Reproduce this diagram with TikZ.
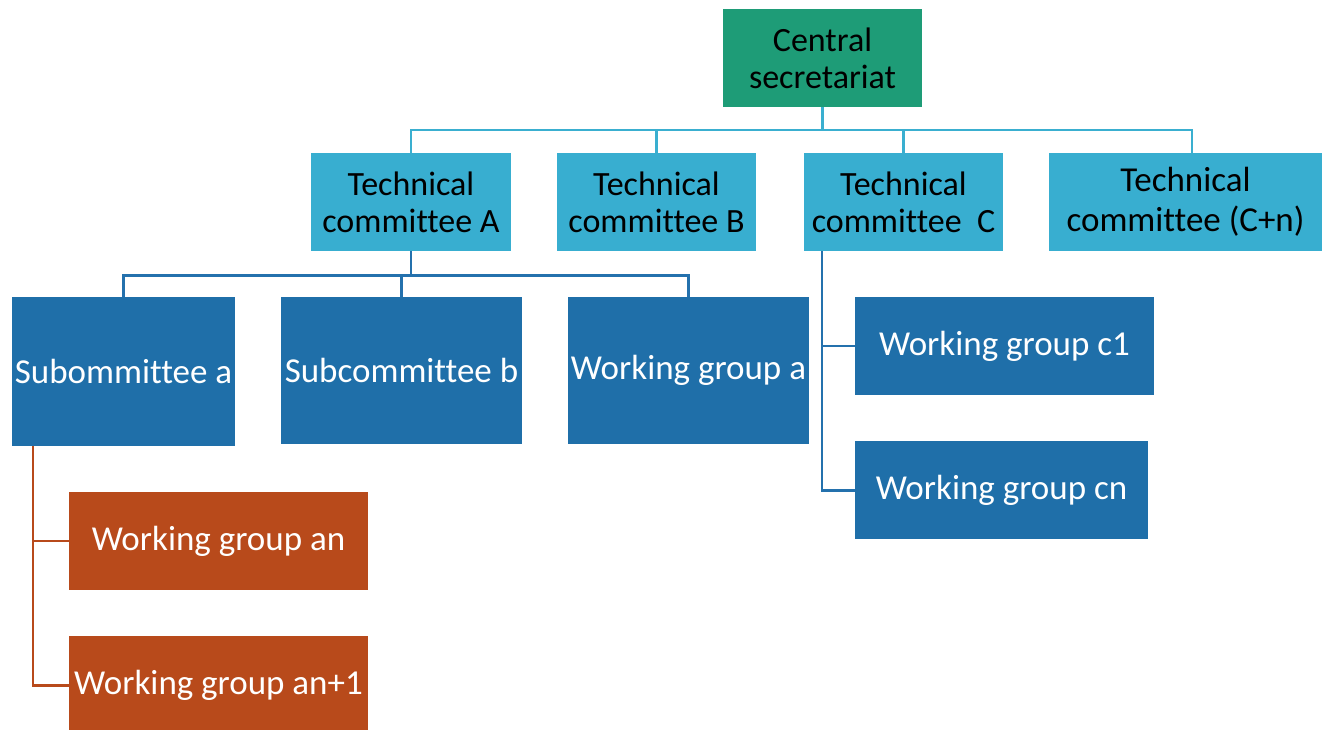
\documentclass[tikz,border=0pt]{standalone}
\usepackage{fontspec}
\setmainfont{Carlito}[Ligatures=NoCommon, Contextuals=NoAlternate]
\usetikzlibrary{positioning}
\definecolor{secgreen}{HTML}{1E9C77}
\definecolor{tcblue}{HTML}{38AED0}
\definecolor{subblue}{HTML}{1F6FA9}
\definecolor{wgorange}{HTML}{B84A1B}
\definecolor{tcline}{HTML}{3AAFD0}
\definecolor{subline}{HTML}{2471AD}

\tikzset{
  orgbox/.style={rectangle, inner sep=0pt, align=center, minimum height=98pt},
  topbox/.style={orgbox, fill=tcblue, text=black, font=\fontsize{34}{37}\selectfont},
  lowbox/.style={orgbox, fill=subblue, text=white, font=\fontsize{35}{40}\selectfont},
  link/.style={line width=2.6pt}
}

\begin{document}
\begin{tikzpicture}[x=1pt, y=-1pt]
    \useasboundingbox (0,0) rectangle (1322,730);

    % Central secretariat
    \node[topbox, fill=secgreen, minimum width=199pt] (central) at (822.5,58) {Central\\secretariat};

    % Technical committees
    \node[topbox, minimum width=200pt] (tcA) at (411,202) {Technical\\committee A};
    \node[topbox, minimum width=199pt] (tcB) at (656.5,202) {Technical\\committee B};
    \node[topbox, minimum width=199pt] (tcC) at (903.5,202) {Technical\\committee ~C};
    \node[topbox, minimum width=273pt, font=\fontsize{35}{40}\selectfont] (tcN) at (1185.5,202) {Technical\\committee (C+n)};

    % Subcommittees under A
    \node[lowbox, minimum width=223pt, minimum height=149pt] (subA) at (123.5,371.5) {Subommittee a};
    \node[lowbox, minimum width=241pt, minimum height=147pt] (subB) at (401.5,370.5) {Subcommittee b};
    \node[lowbox, minimum width=241pt, minimum height=147pt] (wgA) at (688.5,370.5) {Working group a};

    % Working groups under C
    \node[lowbox, minimum width=299pt] (wgC1) at (1004.5,346) {Working group c1};
    \node[lowbox, minimum width=293pt, below=46pt of wgC1.south west, anchor=north west] (wgCn) {Working group cn};

    % Working groups under subcommittee a
    \node[lowbox, fill=wgorange, minimum width=299pt] (wgAn) at (218.5,541) {Working group an};
    \node[lowbox, fill=wgorange, minimum width=299pt, below=46pt of wgAn] (wgAn1) {Working group an+1};

    % Connectors, top level
    \draw[link, tcline] (central.south) -- ++(0,23) coordinate (tcbus);
    \foreach \n in {tcA,tcB,tcC}
        \draw[link, tcline] (tcbus) -| (\n.north);
    \draw[link, tcline] (tcbus) -| ([xshift=6.5pt]tcN.north);

    % Connectors, committee A
    \draw[link, subline] (tcA.south) -- ++(0,24) coordinate (subbus);
    \foreach \n in {subA,subB,wgA}
        \draw[link, subline] (subbus) -| (\n.north);

    % Connectors, committee C
    \draw[link, subline] (tcC.south west) ++(18,0) coordinate (cbus);
    \draw[link, subline] (cbus) |- (wgC1.west);
    \draw[link, subline] (cbus) |- (wgCn.west);

    % Connectors, subcommittee a
    \draw[link, wgorange] (subA.south west) ++(21,0) coordinate (abus);
    \draw[link, wgorange] (abus) |- (wgAn.west);
    \draw[link, wgorange] (abus) |- (wgAn1.west);
\end{tikzpicture}
\end{document}
